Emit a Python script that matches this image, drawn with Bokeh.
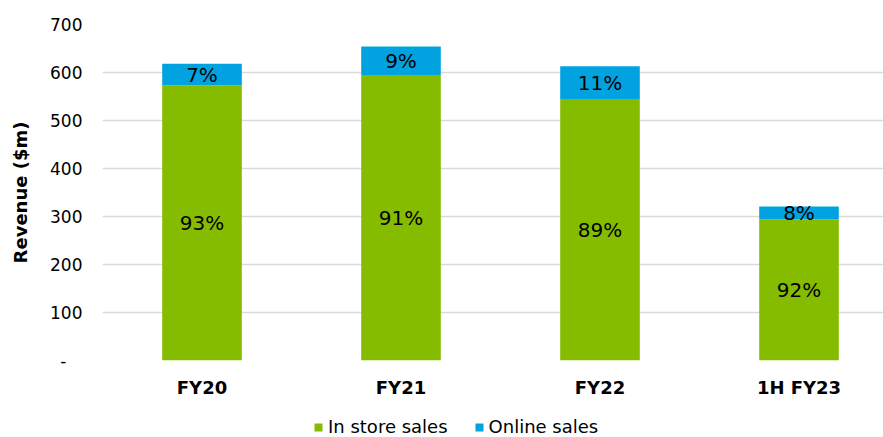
from bokeh.plotting import figure
from bokeh.layouts import column
from bokeh.models import (ColumnDataSource, Range1d, FixedTicker, Legend, LegendItem, LabelSet)
from bokeh.core.properties import value
from bokeh.embed import file_html
from bokeh.resources import INLINE

periods = ["FY20", "FY21", "FY22", "1H FY23"]
in_store = [573, 595, 543, 294]
online = [45, 59, 70, 27]
in_store_pct = ["93%", "91%", "89%", "92%"]
online_pct = ["7%", "9%", "11%", "8%"]
y_ticks = [0, 100, 200, 300, 400, 500, 600, 700]
series_names = ["In store sales", "Online sales"]

GREEN = "#86BC00"
BLUE = "#00A3E0"
FONT = "DejaVu Sans"

xs = list(range(len(periods)))
src = ColumnDataSource(dict(
    x=xs,
    in_store=in_store,
    online=online,
    in_mid=[v / 2 for v in in_store],
    on_mid=[a + b / 2 for a, b in zip(in_store, online)],
    in_pct=in_store_pct,
    on_pct=online_pct,
))

p = figure(frame_width=781, frame_height=336, output_backend="svg", toolbar_location=None,
           x_range=Range1d(-0.5, 3.4246), y_range=Range1d(0, 700),
           min_border_left=102, min_border_right=0, min_border_top=24,
           min_border_bottom=44)
p.outline_line_color = None

rs = p.vbar_stack(["in_store", "online"], x="x", width=0.4, source=src,
                  color=[GREEN, BLUE], line_color=None)

for col, ycol in (("in_pct", "in_mid"), ("on_pct", "on_mid")):
    p.add_layout(LabelSet(x="x", y=ycol, text=col, source=src, text_align="center",
                          text_baseline="middle", text_font=value(FONT),
                          text_font_size=value("20px"), text_color="#000000"))

p.xaxis.ticker = FixedTicker(ticks=xs)
p.xaxis.major_label_overrides = {i: s for i, s in enumerate(periods)}
p.xaxis.major_label_text_font = FONT
p.xaxis.major_label_text_font_style = "bold"
p.xaxis.major_label_text_font_size = "18px"
p.xaxis.major_label_text_color = "#000000"
p.xaxis.axis_line_color = None
p.xaxis.major_tick_line_color = None
p.xaxis.minor_tick_line_color = None
p.xaxis.major_tick_in = 0
p.xaxis.major_tick_out = 0
p.xaxis.major_label_standoff = 16

p.yaxis.ticker = FixedTicker(ticks=y_ticks)
p.yaxis.major_label_overrides = {0: "-\u00a0\u00a0\u00a0"}
p.yaxis.major_label_text_font = FONT
p.yaxis.major_label_text_font_size = "17px"
p.yaxis.major_label_text_color = "#000000"
p.yaxis.axis_line_color = None
p.yaxis.major_tick_line_color = None
p.yaxis.minor_tick_line_color = None
p.yaxis.major_tick_in = 0
p.yaxis.major_tick_out = 0
p.yaxis.major_label_standoff = 20
p.yaxis.axis_label = "Revenue ($m)"
p.yaxis.axis_label_text_font = FONT
p.yaxis.axis_label_text_font_style = "bold"
p.yaxis.axis_label_text_font_size = "18px"
p.yaxis.axis_label_text_color = "#000000"
p.yaxis.axis_label_standoff = 16

p.xgrid.grid_line_color = None
p.ygrid.grid_line_color = "#D9D9D9"
p.ygrid.grid_line_width = 1.5

# legend strip below the chart (frames are aligned with the chart above)
lf = figure(width=883, height=33, output_backend="svg", toolbar_location=None,
            x_range=Range1d(0, 1), y_range=Range1d(0, 1),
            min_border=0)
lf.outline_line_color = None
lf.axis.visible = False
lf.grid.visible = False
# zero-height proxies: they only supply the legend swatches
l0 = lf.vbar(x=[0.5], top=[0], bottom=[0], width=0.1, color=GREEN, line_color=None)
l1 = lf.vbar(x=[0.5], top=[0], bottom=[0], width=0.1, color=BLUE, line_color=None)
legend = Legend(items=[LegendItem(label=series_names[0], renderers=[l0]),
                       LegendItem(label=series_names[1], renderers=[l1])],
                orientation="horizontal", location=(211, 0),
                border_line_color=None, background_fill_alpha=0,
                label_text_font=FONT, label_text_font_size="18px", label_text_color="#000000",
                glyph_width=10, glyph_height=10, label_standoff=5, spacing=26,
                padding=0, margin=0)
lf.add_layout(legend, "center")

layout = column(p, lf, spacing=0)
open("out.html", "w").write(file_html(layout, INLINE))
